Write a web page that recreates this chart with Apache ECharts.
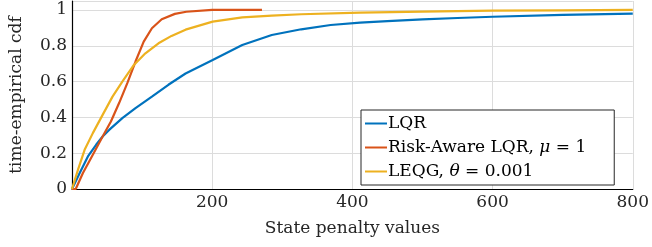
<!DOCTYPE html>
<html>
<head>
<meta charset="utf-8">
<script src="https://cdn.jsdelivr.net/npm/echarts@6/dist/echarts.min.js"></script>
<style>
  html, body { margin: 0; padding: 0; background: #fff; }
  #main { width: 652px; height: 247px; }
</style>
</head>
<body>
<div id="main"></div>
<script>
// values (state penalty -> cdf)
var lqrX = [0, 1.5, 11, 22.7, 34.4, 43.7, 53, 71.8, 90.6, 114, 137.5, 162, 200.7, 242.9, 285, 327, 369, 411, 450, 500, 550, 600, 700, 800];
var lqrY = [0, 0, 0.089, 0.182, 0.247, 0.293, 0.33, 0.396, 0.452, 0.516, 0.582, 0.645, 0.721, 0.804, 0.86, 0.892, 0.916, 0.929, 0.938, 0.947, 0.955, 0.962, 0.972, 0.98];

var raX = [0, 5.3, 15.6, 29.7, 43.7, 55.5, 67.2, 78.9, 90.6, 102.3, 114, 128, 146.8, 163, 200, 240, 271];
var raY = [0, 0, 0.089, 0.191, 0.293, 0.377, 0.48, 0.591, 0.712, 0.823, 0.898, 0.948, 0.978, 0.99, 1.0, 1.0, 1.0];

var leqgX = [0, 8.6, 18, 29.7, 43.7, 57.8, 71.8, 88.3, 104.7, 123.4, 142, 162, 200.7, 243, 285, 327, 411, 500, 600, 700, 800];
var leqgY = [0, 0.108, 0.219, 0.312, 0.414, 0.516, 0.6, 0.693, 0.758, 0.814, 0.855, 0.89, 0.935, 0.959, 0.968, 0.976, 0.985, 0.991, 0.996, 0.998, 1.0];

var names = ['LQR', 'Risk-Aware LQR, {i|\u03bc} = 1', 'LEQG, {i|\u03b8} = 0.001'];
var colors = ['#0072BD', '#D95319', '#EDB120'];
var yTicks = [0, 0.2, 0.4, 0.6, 0.8, 1];

function pairs(xs, ys) {
  return xs.map(function (x, i) { return [x, ys[i]]; });
}

var font = 'DejaVu Serif';
var fs = 17;
var chart = echarts.init(document.getElementById('main'));
var option = {
  animation: false,
  grid: { left: 67, right: 16, top: 1, bottom: 58, containLabel: false },
  xAxis: {
    type: 'value', min: 0, max: 800, interval: 200,
    name: 'State penalty values', nameLocation: 'middle', nameGap: 31,
    nameTextStyle: { fontFamily: font, fontSize: fs, color: '#262626' },
    axisLine: { lineStyle: { color: '#000', width: 1.2 } },
    axisTick: { show: false },
    axisLabel: {
      fontFamily: font, fontSize: fs, color: '#262626', margin: 5,
      formatter: function (v) { return v === 0 ? '' : String(v); }
    },
    splitLine: { show: true, lineStyle: { color: '#dcdcdc', width: 1 } }
  },
  yAxis: {
    type: 'value', min: 0, max: 1.05, interval: 0.2,
    name: 'time-empirical cdf', nameLocation: 'middle', nameGap: 47,
    nameTextStyle: { fontFamily: font, fontSize: fs, color: '#262626' },
    axisLine: { show: true, lineStyle: { color: '#000', width: 1.2 } },
    axisTick: { show: false },
    axisLabel: {
      fontFamily: font, fontSize: fs, color: '#262626', margin: 5,
      formatter: function (v) {
        var r = Math.round(v * 10) / 10;
        return yTicks.indexOf(r) >= 0 ? String(r) : '';
      }
    },
    splitLine: { show: true, lineStyle: { color: '#dcdcdc', width: 1 } }
  },
  legend: {
    orient: 'vertical', left: 361, top: 110,
    itemWidth: 22, itemHeight: 2, itemGap: 7,
    padding: [5, 28, 5, 4],
    backgroundColor: '#fff', borderColor: '#262626', borderWidth: 1,
    icon: 'rect',
    textStyle: {
      fontFamily: font, fontSize: fs, color: '#000', padding: [0, 0, 0, -4],
      rich: { i: { fontFamily: font, fontSize: fs, fontStyle: 'italic', color: '#000' } }
    },
    data: names
  },
  series: [
    { name: names[0], data: pairs(lqrX, lqrY) },
    { name: names[1], data: pairs(raX, raY) },
    { name: names[2], data: pairs(leqgX, leqgY) }
  ].map(function (s, i) {
    return {
      name: s.name, type: 'line', data: s.data, smooth: false,
      showSymbol: false, color: colors[i],
      lineStyle: { width: 2.2, color: colors[i] }
    };
  })
};
chart.setOption(option);
</script>
</body>
</html>
